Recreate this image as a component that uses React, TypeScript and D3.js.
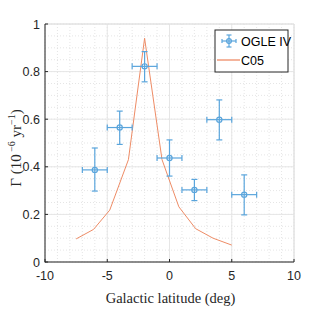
import React from "react";
import * as d3 from "d3";

const W = 327;
const H = 316;

// OGLE IV measurements
const ogleLat = [-6, -4, -2, 0, 2, 4, 6];
const ogleRate = [0.387, 0.565, 0.822, 0.437, 0.303, 0.598, 0.283];
const ogleLow = [0.298, 0.494, 0.757, 0.361, 0.258, 0.513, 0.198];
const ogleHigh = [0.479, 0.634, 0.884, 0.513, 0.347, 0.681, 0.366];
const ogleLatHalfWidth = [1, 1, 1, 1, 1, 1, 1];

// C05 model
const c05Lat = [-7.5, -6.1, -4.8, -3.3, -2.0, -0.6, 0.75, 2.1, 3.5, 5.0];
const c05Rate = [0.097, 0.137, 0.218, 0.43, 0.94, 0.43, 0.232, 0.14, 0.1, 0.071];

const xTicks = [-10, -5, 0, 5, 10];
const yTicks = [0, 0.2, 0.4, 0.6, 0.8, 1];
const xMinor = d3.range(-10, 10.001, 1);
const yMinor = d3.range(0, 1.0001, 0.05);

const legendLabels = ["OGLE IV", "C05"];

const blue = "#5aa5dc";
const orange = "#ee8c66";

export default function App() {
  const left = 45, right = 294, top = 24, bottom = 262;
  const x = d3.scaleLinear().domain([-10, 10]).range([left, right]);
  const y = d3.scaleLinear().domain([0, 1]).range([bottom, top]);
  const line = d3
    .line<number>()
    .x((_, i) => x(c05Lat[i]))
    .y((d) => y(d));

  const tickFont = "'Liberation Sans', Arial, sans-serif";
  const serif = "'Liberation Serif', 'Times New Roman', serif";

  return (
    <svg
      width={W}
      height={H}
      style={{ position: "absolute", left: 0, top: 0, background: "#fff" }}
    >
      <rect x={0} y={0} width={W} height={H} fill="#fff" />
      {/* minor grid */}
      {xMinor.map((v, i) => (
        <line key={"xm" + i} x1={x(v)} x2={x(v)} y1={top} y2={bottom}
          stroke="#d4d4d4" strokeWidth={0.6} strokeDasharray="1,2" />
      ))}
      {yMinor.map((v, i) => (
        <line key={"ym" + i} x1={left} x2={right} y1={y(v)} y2={y(v)}
          stroke="#d4d4d4" strokeWidth={0.6} strokeDasharray="1,2" />
      ))}
      {/* major grid */}
      {xTicks.map((v, i) => (
        <line key={"xg" + i} x1={x(v)} x2={x(v)} y1={top} y2={bottom}
          stroke="#e6e6e6" strokeWidth={1} />
      ))}
      {yTicks.map((v, i) => (
        <line key={"yg" + i} x1={left} x2={right} y1={y(v)} y2={y(v)}
          stroke="#e6e6e6" strokeWidth={1} />
      ))}
      {/* C05 line */}
      <path d={line(c05Rate) || ""} fill="none" stroke={orange} strokeWidth={1} />
      {/* OGLE IV error bars */}
      {ogleLat.map((b, i) => {
        const cx = x(b);
        const cy = y(ogleRate[i]);
        const x0 = x(b - ogleLatHalfWidth[i]);
        const x1 = x(b + ogleLatHalfWidth[i]);
        const y0 = y(ogleLow[i]);
        const y1 = y(ogleHigh[i]);
        return (
          <g key={"e" + i} stroke={blue} strokeWidth={1.2} fill="none">
            <line x1={cx} x2={cx} y1={y0} y2={y1} />
            <line x1={cx - 3} x2={cx + 3} y1={y0} y2={y0} />
            <line x1={cx - 3} x2={cx + 3} y1={y1} y2={y1} />
            <line x1={x0} x2={x1} y1={cy} y2={cy} />
            <line x1={x0} x2={x0} y1={cy - 3} y2={cy + 3} />
            <line x1={x1} x2={x1} y1={cy - 3} y2={cy + 3} />
            <circle cx={cx} cy={cy} r={2.6} />
          </g>
        );
      })}
      {/* axes box (light) */}
      <line x1={left} x2={right} y1={top} y2={top} stroke="#e0e0e0" />
      <line x1={right} x2={right} y1={top} y2={bottom} stroke="#e0e0e0" />
      {/* axes */}
      <line x1={left} x2={left} y1={top} y2={bottom + 0.5} stroke="#262626" strokeWidth={1} />
      <line x1={left} x2={right} y1={bottom} y2={bottom} stroke="#262626" strokeWidth={1} />
      {xTicks.map((v, i) => (
        <g key={"xt" + i}>
          <line x1={x(v)} x2={x(v)} y1={bottom} y2={bottom - 3} stroke="#262626" />
          <text x={x(v)} y={bottom + 18} textAnchor="middle" fontSize={12.5}
            fontFamily={tickFont} fill="#262626">{v}</text>
        </g>
      ))}
      {yTicks.map((v, i) => (
        <g key={"yt" + i}>
          <line x1={left} x2={left + 3} y1={y(v)} y2={y(v)} stroke="#262626" />
          <text x={left - 5} y={y(v) + 4.5} textAnchor="end" fontSize={12.5}
            fontFamily={tickFont} fill="#262626">{v}</text>
        </g>
      ))}
      {/* axis labels */}
      <text x={(left + right) / 2 + 1} y={303} textAnchor="middle" fontSize={14.5}
        fontFamily={serif} fill="#262626">Galactic latitude (deg)</text>
      <text transform={`translate(21, ${(top + bottom) / 2 + 5}) rotate(-90)`}
        textAnchor="middle" fontSize={15} fontFamily={serif} fill="#262626">
        <tspan>Γ (10</tspan>
        <tspan fontSize={10} dy={-6}> −6</tspan>
        <tspan dy={6}> yr</tspan>
        <tspan fontSize={10} dy={-6}>−1</tspan>
        <tspan dy={6}>)</tspan>
      </text>
      {/* legend */}
      <g>
        <rect x={215} y={30} width={73} height={42} fill="#fff" stroke="#262626" strokeWidth={1} />
        <g stroke={blue} strokeWidth={1.2} fill="none">
          <line x1={229} x2={229} y1={35} y2={47} />
          <line x1={226.5} x2={231.5} y1={35} y2={35} />
          <line x1={226.5} x2={231.5} y1={47} y2={47} />
          <line x1={222} x2={236} y1={41} y2={41} />
          <line x1={222} x2={222} y1={39} y2={43} />
          <line x1={236} x2={236} y1={39} y2={43} />
          <circle cx={229} cy={41} r={2.4} />
        </g>
        <text x={241} y={45.5} fontSize={12.5} fontFamily={tickFont} fill="#000">{legendLabels[0]}</text>
        <line x1={217} x2={240} y1={60} y2={60} stroke={orange} strokeWidth={1.3} />
        <text x={241} y={64.5} fontSize={12.5} fontFamily={tickFont} fill="#000">{legendLabels[1]}</text>
      </g>
    </svg>
  );
}
